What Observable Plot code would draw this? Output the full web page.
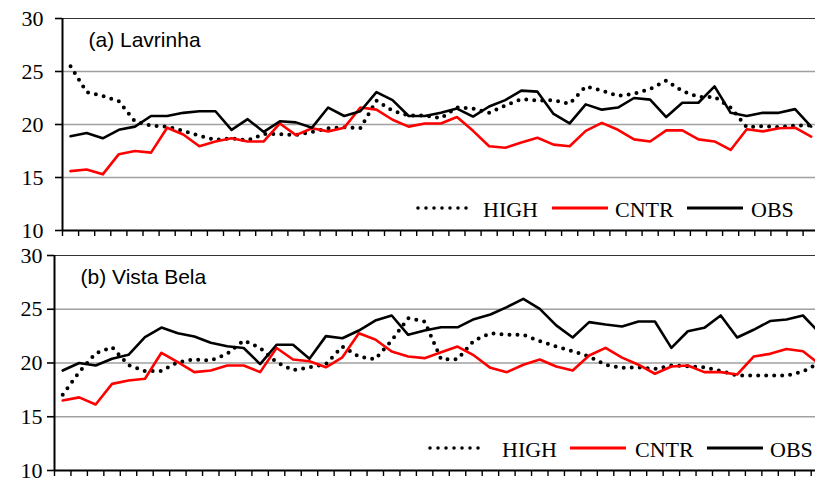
<!DOCTYPE html>
<html>
<head>
<meta charset="utf-8">
<script src="https://cdn.jsdelivr.net/npm/d3@7"></script>
<script src="https://cdn.jsdelivr.net/npm/@observablehq/plot@0.6"></script>
<style>
  html, body { margin: 0; padding: 0; background: white; overflow: hidden; }
  #wrap { position: relative; width: 815px; height: 481px; overflow: hidden; }
  #wrap svg { overflow: visible; max-width: none; }
  #legend { position: absolute; left: 0; top: 0; pointer-events: none; }
</style>
</head>
<body>
<div id="wrap"></div>
<script>
// ---- data ----
const weeks = d3.range(47);
const yTicks = [10, 15, 20, 25, 30];
const seriesNames = ["HIGH", "CNTR", "OBS"];

const lavHigh = [25.5, 23.05, 22.7, 22.2, 20.3, 19.9, 19.8, 19.4, 18.95, 18.55, 18.7, 18.5, 19.1, 19.1,
  19.0, 19.3, 19.65, 19.75, 19.65, 22.25, 21.3, 20.85, 20.85, 20.6, 21.6, 21.5, 21.1, 21.8, 22.4, 22.25,
  22.3, 21.95, 23.6, 23.2, 22.7, 22.9, 23.35, 24.15, 23.15, 22.6, 22.6, 21.6, 19.75, 19.85, 19.75, 19.9, 19.9];
const lavCntr = [15.6, 15.75, 15.3, 17.2, 17.5, 17.35, 19.7, 19.05, 17.95, 18.4, 18.7, 18.4, 18.4,
  20.1, 19.0, 19.65, 19.35, 19.7, 21.6, 21.4, 20.45, 19.8, 20.1, 20.1, 20.7, 19.4, 17.95, 17.8, 18.3, 18.75,
  18.1, 17.95, 19.4, 20.15, 19.5, 18.6, 18.4, 19.45, 19.45, 18.6, 18.4, 17.6, 19.55, 19.35, 19.65, 19.7, 18.85];
const lavObs = [18.9, 19.2, 18.7, 19.5, 19.8, 20.8, 20.8, 21.1, 21.25, 21.25, 19.5, 20.5, 19.3, 20.3,
  20.2, 19.7, 21.6, 20.8, 21.25, 23.05, 22.3, 20.8, 20.8, 21.1, 21.5, 20.75, 21.7, 22.3, 23.2, 23.1,
  21.0, 20.1, 21.9, 21.4, 21.6, 22.5, 22.35, 20.7, 22.05, 22.05, 23.6, 21.1, 20.8, 21.1, 21.1, 21.45, 19.8];

const vbHigh = [17.05, 19.15, 20.9, 21.47, 19.8, 19.25, 19.25, 20.08, 20.33, 20.23, 20.85, 22.1, 21.4, 20.08,
  19.33, 19.6, 19.9, 21.53, 20.6, 20.36, 22.1, 24.17, 23.86, 20.36, 20.36, 22.1, 22.77, 22.62, 22.62, 22.03,
  21.53, 21.1, 20.6, 19.84, 19.55, 19.6, 19.44, 19.77, 19.7, 19.6, 19.25, 18.84, 18.84, 18.84, 18.84, 19.2, 20.0];
const vbCntr = [16.52, 16.8, 16.14, 18.06, 18.37, 18.53, 20.95, 20.08, 19.15, 19.3, 19.77, 19.77, 19.15, 21.4,
  20.33, 20.17, 19.6, 20.53, 22.77, 22.19, 21.07, 20.6, 20.45, 21.0, 21.53, 20.7, 19.55, 19.15, 19.84, 20.33,
  19.67, 19.3, 20.7, 21.41, 20.5, 19.84, 19.0, 19.67, 19.77, 19.15, 19.15, 18.93, 20.6, 20.85, 21.3, 21.1, 19.9];
const vbObs = [19.3, 20.0, 19.77, 20.4, 20.76, 22.4, 23.3, 22.77, 22.47, 21.88, 21.56, 21.4, 19.9, 21.7,
  21.7, 20.4, 22.5, 22.3, 23.02, 23.95, 24.42, 22.62, 23.02, 23.32, 23.32, 24.08, 24.51, 25.2, 25.97, 25.04,
  23.5, 22.37, 23.8, 23.58, 23.4, 23.86, 23.86, 21.41, 22.95, 23.27, 24.42, 22.37, 23.09, 23.9, 24.05, 24.42, 22.8];

// ---- styles ----
const serif = "'Liberation Serif', 'Times New Roman', serif";
const sans = "'Liberation Sans', Arial, sans-serif";
const seriesStyle = {
  HIGH: {stroke: "black", strokeWidth: 4, strokeDasharray: "0 8", strokeLinecap: "round"},
  CNTR: {stroke: "#ff0000", strokeWidth: 2.6},
  OBS:  {stroke: "black", strokeWidth: 2.6}
};

function panel(cfg) {
  const data = {HIGH: cfg.high, CNTR: cfg.cntr, OBS: cfg.obs};
  return Plot.plot({
    width: 815,
    height: cfg.height,
    marginLeft: cfg.marginLeft,
    marginRight: 0,
    marginTop: cfg.marginTop,
    marginBottom: cfg.marginBottom,
    style: {background: "transparent", color: "black", overflow: "visible"},
    x: {domain: [-0.5, weeks.length - 0.5], range: [cfg.marginLeft, cfg.marginLeft + weeks.length * cfg.step]},
    y: {domain: [10, 30]},
    marks: [
      Plot.ruleY([15, 20, 25], {stroke: "#a0a0a0", strokeWidth: 1.3}),
      Plot.ruleY([30], {stroke: "#333", strokeWidth: 1.2}),
      ...seriesNames.map(s => Plot.line(weeks, {x: i => i, y: i => data[s][i], ...seriesStyle[s]})),
      Plot.axisY({ticks: yTicks, tickSize: 7, tickFormat: () => "", label: null,
        stroke: "black", strokeWidth: 1.6}),
      Plot.text(yTicks, {y: d => d, text: d => String(d), frameAnchor: "left", textAnchor: "end",
        lineAnchor: "middle", dx: -(7 + cfg.tickPadding), fontFamily: serif, fontSize: 22, fill: "black"}),
      Plot.axisX({ticks: d3.range(-0.5, weeks.length, 1), tickSize: 6, tickFormat: () => "",
        label: null, stroke: "black", strokeWidth: 1.4}),
      Plot.ruleX([-0.5], {stroke: "black", strokeWidth: 2}),
      Plot.ruleY([10], {stroke: "black", strokeWidth: 2}),
      Plot.text([cfg.title], {text: d => d, frameAnchor: "top-left", textAnchor: "start", lineAnchor: "top",
        dx: 26, dy: 14, fontFamily: sans, fontSize: 21, fill: "black"})
    ]
  });
}

const wrap = document.getElementById("wrap");
wrap.appendChild(panel({title: "(a) Lavrinha", high: lavHigh, cntr: lavCntr, obs: lavObs,
  height: 240, marginLeft: 62, marginTop: 18, marginBottom: 10, step: 16.1, tickPadding: 12}));
wrap.appendChild(panel({title: "(b) Vista Bela", high: vbHigh, cntr: vbCntr, obs: vbObs,
  height: 241, marginLeft: 54, marginTop: 15, marginBottom: 11, step: 16.45, tickPadding: 5}));

// ---- legends (inside each panel, bottom right) ----
const legendLayouts = [
  {y: 208, items: [{x: 418, tx: 483}, {x: 552, tx: 615}, {x: 687, tx: 751}]},
  {y: 448, items: [{x: 430, tx: 502}, {x: 570, tx: 635}, {x: 707, tx: 770}]}
];
const leg = d3.select(wrap).append("svg").attr("id", "legend").attr("width", 815).attr("height", 481);
legendLayouts.forEach(L => {
  seriesNames.forEach((s, k) => {
    const it = L.items[k];
    const st = seriesStyle[s];
    leg.append("line").attr("x1", it.x).attr("x2", it.x + 56).attr("y1", L.y).attr("y2", L.y)
      .attr("stroke", st.stroke).attr("stroke-width", s === "HIGH" ? 3.6 : 3)
      .attr("stroke-dasharray", st.strokeDasharray || null)
      .attr("stroke-linecap", st.strokeLinecap || "butt");
    leg.append("text").attr("x", it.tx).attr("y", L.y + 9)
      .attr("font-family", serif).attr("font-size", 22)
      .attr("fill", "black").text(s);
  });
});
</script>
</body>
</html>
